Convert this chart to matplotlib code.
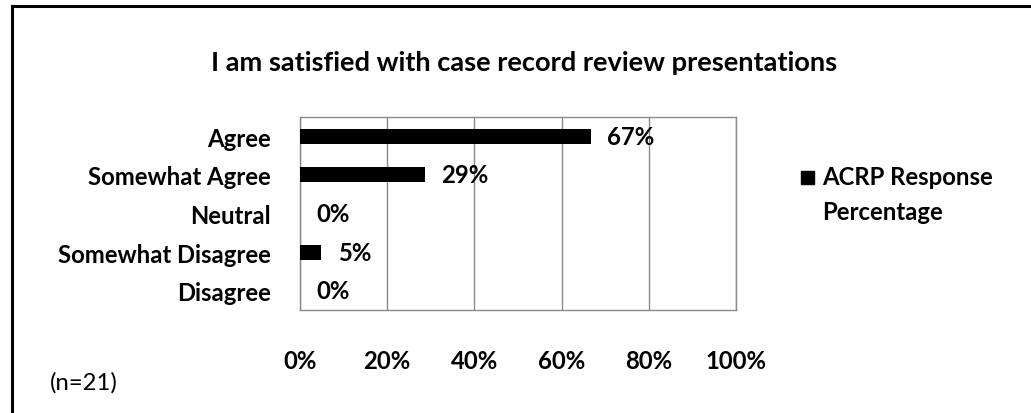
import matplotlib
matplotlib.use("Agg")
import matplotlib.pyplot as plt
from matplotlib.lines import Line2D
from matplotlib.patches import Rectangle

categories = ["Agree", "Somewhat Agree", "Neutral", "Somewhat Disagree", "Disagree"]
values = [66.7, 28.6, 0.0, 4.8, 0.0]
value_labels = ["67%", "29%", "0%", "5%", "0%"]
xticks = [0, 20, 40, 60, 80, 100]
xtick_labels = ["0%", "20%", "40%", "60%", "80%", "100%"]
title = "I am satisfied with case record review presentations"
legend_label = "ACRP Response\nPercentage"
note = "(n=21)"

plt.rcParams['font.family'] = ['Lato', 'DejaVu Sans']

W, H = 1031, 414
fig = plt.figure(figsize=(W / 100, H / 100), dpi=100)

# outer frame
fig.add_artist(Line2D([12 / W, 12 / W], [-0.1, 1 - 7 / H], transform=fig.transFigure,
                      color="black", lw=2.2))
fig.add_artist(Line2D([12 / W, 1.1], [1 - 7 / H, 1 - 7 / H], transform=fig.transFigure,
                      color="black", lw=2.2))

FS = 17.2
ax = fig.add_axes([300 / W, 1 - 311 / H, 436 / W, 193 / H])
ypos = list(range(len(categories)))
ax.barh(ypos, values, height=0.39, color="black", zorder=3)
ax.set_ylim(len(categories) - 0.5, -0.5)
ax.set_xlim(0, 100)
ax.set_xticks(xticks)
ax.set_xticklabels(xtick_labels, fontsize=FS, fontweight="bold")
ax.set_yticks(ypos)
ax.set_yticklabels(categories, fontsize=FS, fontweight="bold")
ax.tick_params(axis="x", length=0, pad=28)
ax.tick_params(axis="y", length=0, pad=21)
ax.grid(axis="x", color="#8a8a8a", lw=1, zorder=0)
for s in ax.spines.values():
    s.set_color("#8a8a8a")
    s.set_linewidth(1)

for y, v, lab in zip(ypos, values, value_labels):
    ax.annotate(lab, xy=(v, y), xytext=(12, 0), textcoords="offset points",
                ha="left", va="center", fontsize=FS, fontweight="bold", zorder=4)

fig.text(524 / W, 1 - 63 / H, title, ha="center", va="center", fontsize=19.6,
         fontweight="bold")

# legend
fig.add_artist(Rectangle((801 / W, 1 - 185 / H), 13 / W, 13 / H, transform=fig.transFigure,
                         color="black"))
fig.text(822 / W, 1 - 178 / H, "ACRP Response", ha="left", va="center", fontsize=FS,
         fontweight="bold")
fig.text(822 / W, 1 - 212 / H, "Percentage", ha="left", va="center", fontsize=FS,
         fontweight="bold")

fig.text(50 / W, 1 - 383 / H, note, ha="left", va="center", fontsize=FS)

fig.savefig("out.png", dpi=100)
